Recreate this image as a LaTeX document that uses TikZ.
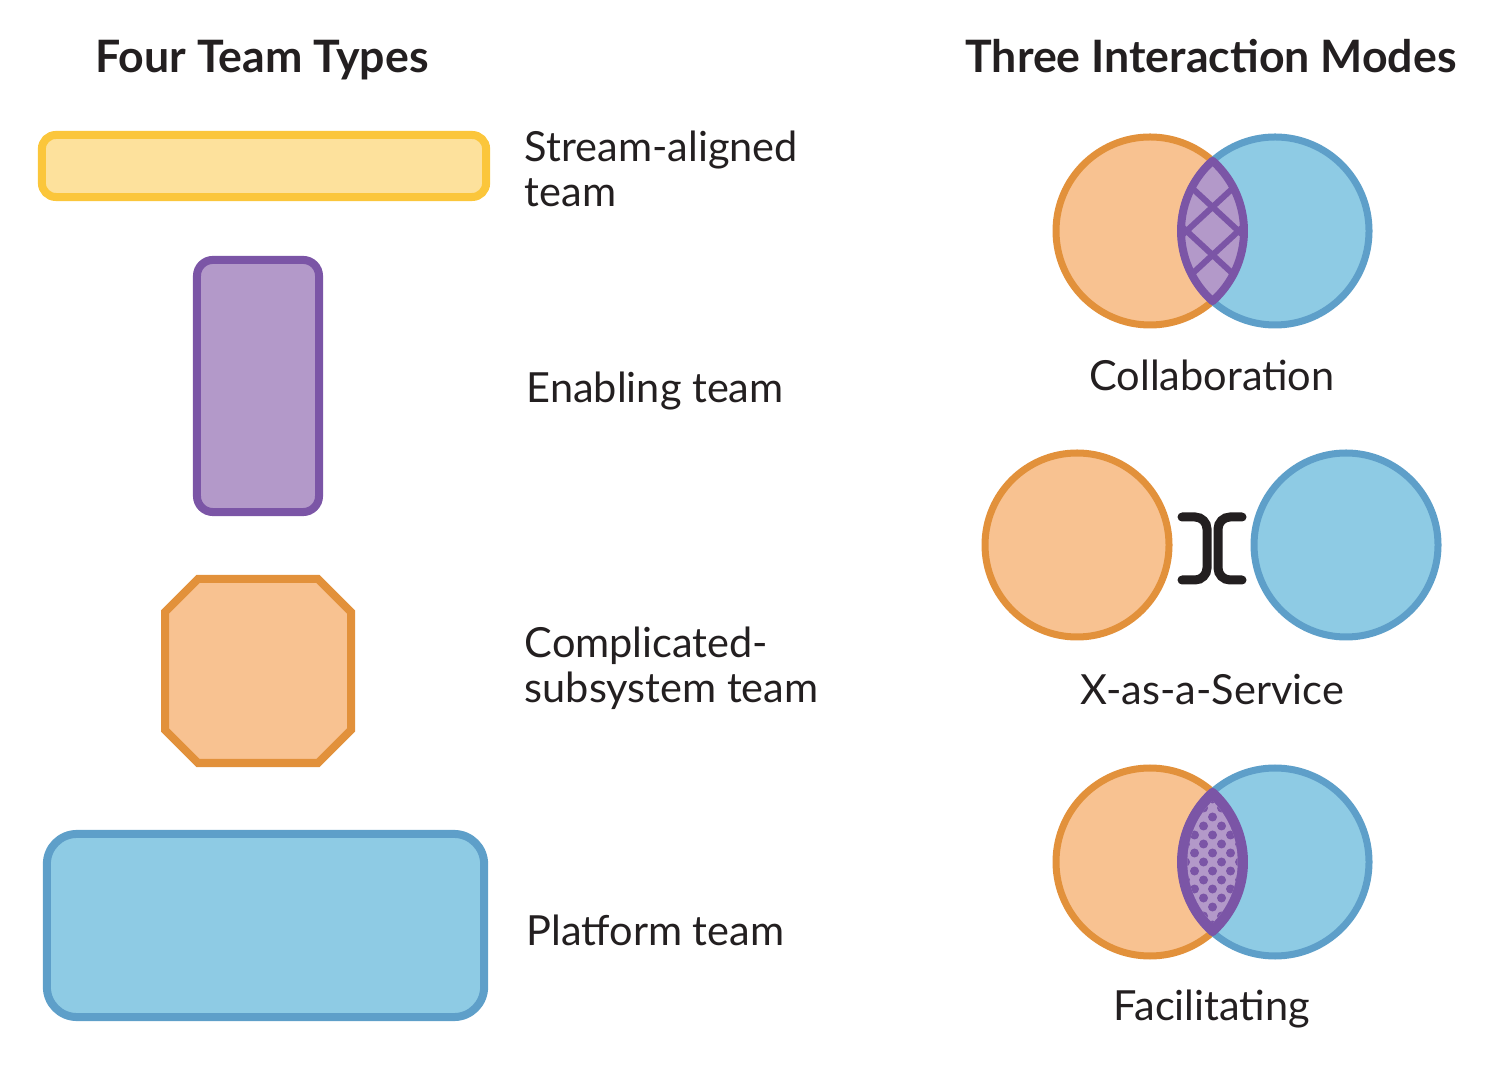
\documentclass[tikz,border=0pt]{standalone}
\usepackage{fontspec}
\setmainfont{Lato}
\usetikzlibrary{positioning}
\definecolor{ink}{HTML}{231F20}
\definecolor{yellowfill}{HTML}{FDE19C}
\definecolor{yellowline}{HTML}{FBC63B}
\definecolor{purplefill}{HTML}{B399C9}
\definecolor{purpleline}{HTML}{7B55A6}
\definecolor{orangefill}{HTML}{F8C291}
\definecolor{orangeline}{HTML}{E2913B}
\definecolor{bluefill}{HTML}{8ECBE4}
\definecolor{blueline}{HTML}{5E9FC9}
\newcommand{\lenspath}{(0,70.2) arc[start angle=48.3, end angle=-48.3, radius=94] arc[start angle=228.3, end angle=131.7, radius=94] -- cycle}
\begin{document}
\begin{tikzpicture}[x=0.01cm, y=0.01cm,
    title/.style={anchor=base, text=ink, font=\fontsize{12.7}{13}\selectfont\bfseries},
    teamlabel/.style={anchor=base west, inner sep=0pt, align=left, text=ink, font=\fontsize{11.8}{12.8}\selectfont},
    modelabel/.style={anchor=base, text=ink, font=\fontsize{11.8}{12.8}\selectfont},
    teambox/.style={rectangle, line width=0.08cm},
    orangecircle/.style={fill=orangefill, draw=orangeline, line width=0.07cm},
    bluecircle/.style={fill=bluefill, draw=blueline, line width=0.07cm},
    bracket/.style={draw=ink, line width=0.09cm, line cap=round, rounded corners=0.12cm}]
    \useasboundingbox (0,0) rectangle (1507,1073);
    \node [title] (types) at (262,1000) {Four Team Types};
    \node [title] (modes) at (1211,1000) {Three Interaction Modes};
    \node [teambox, fill=yellowfill, draw=yellowline, rounded corners=0.14cm, minimum width=4.44cm, minimum height=0.62cm] (stream) at (264,907) {};
    \node [teambox, fill=purplefill, draw=purpleline, rounded corners=0.16cm, minimum width=1.22cm, minimum height=2.52cm] (enabling) at (258,687) {};
    \draw [fill=orangefill, draw=orangeline, line width=0.08cm] (198,310) -- (318,310) -- (351,343) -- (351,461) -- (318,494) -- (198,494) -- (165,461) -- (165,343) -- cycle;
    \node [teambox, fill=bluefill, draw=blueline, rounded corners=0.3cm, minimum width=4.37cm, minimum height=1.83cm] (platform) at (265.5,147.5) {};
    \node [teamlabel] (streamlabel) at (524,866) {Stream-aligned\\team};
    \node [teamlabel] (enablinglabel) at (526,670) {Enabling team};
    \node [teamlabel] (complicatedlabel) at (524,370) {Complicated-\\subsystem team};
    \node [teamlabel] (platformlabel) at (526,128) {Platform team};
    % collaboration
    \draw [orangecircle] (1150,842) circle [radius=94];
    \draw [bluecircle] (1275,842) circle [radius=94];
    \begin{scope}[shift={(1212.5,842)}]
        \fill [purplefill] \lenspath;
        \begin{scope}
            \clip \lenspath;
            \foreach \c in {-72,-24,24,72} {
                \draw [purpleline, line width=0.06cm] (-40,{\c-37}) -- (40,{\c+37});
                \draw [purpleline, line width=0.06cm] (-40,{\c+37}) -- (40,{\c-37});
            }
        \end{scope}
        \draw [purpleline, line width=0.08cm, line join=round] \lenspath;
    \end{scope}
    \node [modelabel] (collab) at (1212,682) {Collaboration};
    % x-as-a-service
    \draw [orangecircle] (1077,528) circle [radius=92];
    \draw [bluecircle] (1346,528) circle [radius=92];
    \draw [bracket] (1182,556) -- (1207,556) -- (1207,493) -- (1182,493);
    \draw [bracket] (1242,556) -- (1218,556) -- (1218,493) -- (1242,493);
    \node [modelabel] (xaas) at (1212,368) {X-as-a-Service};
    % facilitating
    \draw [orangecircle] (1150,211) circle [radius=94];
    \draw [bluecircle] (1275,211) circle [radius=94];
    \begin{scope}[shift={(1212.5,211)}]
        \filldraw [fill=purpleline, draw=purpleline, line width=0.08cm, line join=round] \lenspath;
        \fill [purplefill, xscale=0.8, yscale=0.87] \lenspath;
        \begin{scope}
            \clip [xscale=0.8, yscale=0.87] \lenspath;
            \foreach \i in {-4,...,4} {
                \foreach \j in {-8,...,8} {
                    \pgfmathparse{int(mod(\i+\j+20,2))}
                    \ifnum\pgfmathresult=1
                        \fill [purpleline] (9*\i,9*\j) circle [radius=4.5];
                    \fi
                }
            }
        \end{scope}
    \end{scope}
    \node [modelabel] (facil) at (1212,53) {Facilitating};
\end{tikzpicture}
\end{document}
